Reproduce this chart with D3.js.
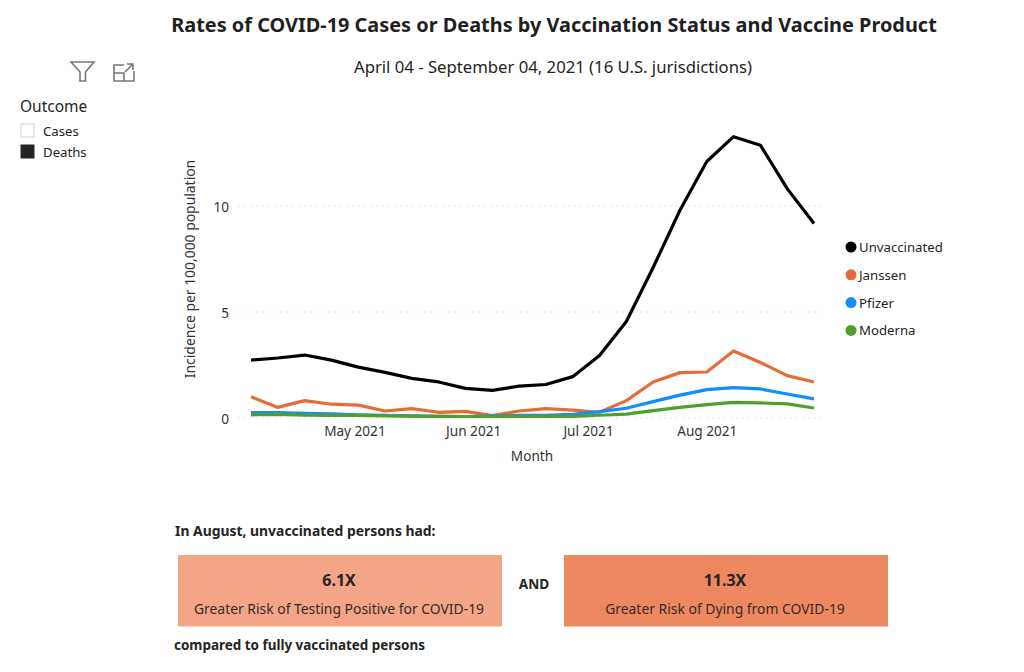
<!DOCTYPE html>
<html>
<head>
<meta charset="utf-8">
<script src="https://cdn.jsdelivr.net/npm/d3@7"></script>
<style>
  html, body { margin: 0; padding: 0; background: #fff; }
  svg { display: block; font-family: "Noto Sans", "Open Sans", sans-serif; }
</style>
</head>
<body>
<div id="chart"></div>
<script>
const weeks = ["2021-04-04","2021-04-11","2021-04-18","2021-04-25","2021-05-02","2021-05-09","2021-05-16","2021-05-23","2021-05-30","2021-06-06","2021-06-13","2021-06-20","2021-06-27","2021-07-04","2021-07-11","2021-07-18","2021-07-25","2021-08-01","2021-08-08","2021-08-15","2021-08-22","2021-08-29"];
const unvaccinated = [2.73,2.83,2.97,2.73,2.4,2.15,1.87,1.7,1.4,1.3,1.5,1.58,1.95,2.95,4.55,7.1,9.8,12.1,13.27,12.87,10.82,9.17];
const janssen = [1.0,0.5,0.82,0.65,0.61,0.33,0.44,0.27,0.31,0.11,0.33,0.44,0.37,0.27,0.82,1.7,2.14,2.17,3.16,2.62,2.0,1.7];
const pfizer = [0.25,0.26,0.22,0.2,0.15,0.12,0.1,0.08,0.07,0.1,0.12,0.12,0.17,0.3,0.46,0.77,1.08,1.34,1.43,1.37,1.13,0.9];
const moderna = [0.15,0.17,0.14,0.12,0.12,0.1,0.09,0.08,0.07,0.07,0.08,0.08,0.08,0.13,0.18,0.35,0.5,0.63,0.74,0.71,0.67,0.47];
const seriesNames = ["Unvaccinated","Janssen","Pfizer","Moderna"];
const seriesColors = ["#000000","#E66C37","#118DFF","#4F9F2B"];
const monthTicks = ["2021-05-01","2021-06-01","2021-07-01","2021-08-01"];
const yTicks = [0,5,10];
const outcomes = ["Cases","Deaths"];

const fontFamily = '"Noto Sans", "Open Sans", sans-serif';
const parseDay = d3.timeParse("%Y-%m-%d");
const dates = weeks.map(parseDay);
const allSeries = [unvaccinated, janssen, pfizer, moderna];

const svg = d3.select("#chart").append("svg")
  .attr("width", 1024)
  .attr("height", 672);

const x = d3.scaleTime()
  .domain([dates[0], dates[dates.length - 1]])
  .range([251, 814]);
const y = d3.scaleLinear()
  .domain([0, 10])
  .range([418, 206]);

// titles
svg.append("text")
  .attr("x", 554).attr("y", 32)
  .attr("text-anchor", "middle")
  .attr("font-size", 19.9).attr("font-weight", 700).attr("fill", "#1f1f1f")
  .text("Rates of COVID-19 Cases or Deaths by Vaccination Status and Vaccine Product");
svg.append("text")
  .attr("x", 553).attr("y", 73)
  .attr("text-anchor", "middle")
  .attr("font-size", 16.7).attr("fill", "#252423")
  .text("April 04 - September 04, 2021 (16 U.S. jurisdictions)");

// filter and expand icons
const icons = svg.append("g")
  .attr("fill", "none").attr("stroke", "#777").attr("stroke-width", 1.6);
icons.append("path").attr("d", "M71 62H94L85.5 72V81H80V72Z");
icons.append("path").attr("d", "M124 65H114V81H134V71M114 73H124V81M125 72L133 64M127 64H133V70");

// outcome slicer
svg.append("text")
  .attr("x", 20).attr("y", 112)
  .attr("font-size", 15.5).attr("fill", "#252423")
  .text("Outcome");
const slicer = svg.append("g").selectAll("g")
  .data(outcomes)
  .enter()
  .append("g")
  .attr("transform", (d, i) => "translate(21," + (124 + i * 21) + ")");
slicer.append("rect")
  .attr("x", 0).attr("y", 0)
  .attr("width", 13).attr("height", 13)
  .attr("fill", (d) => (d == "Deaths" ? "#252423" : "#fff"))
  .attr("stroke", (d) => (d == "Deaths" ? "#252423" : "#d4d4d4"));
slicer.append("text")
  .attr("x", 22).attr("y", 12)
  .attr("font-size", 13.2).attr("fill", "#252423")
  .text((d) => d);

// grid
svg.append("g")
  .selectAll("line")
  .data(yTicks)
  .enter()
  .append("line")
  .attr("x1", 238).attr("x2", 824)
  .attr("y1", (d) => y(d)).attr("y2", (d) => y(d))
  .attr("stroke", "#dcdcdc")
  .attr("stroke-dasharray", "1.5 4.5");

// axes
const xAxis = svg.append("g")
  .attr("transform", "translate(0,418)")
  .call(d3.axisBottom(x)
    .tickValues(monthTicks.map(parseDay))
    .tickFormat(d3.timeFormat("%b %Y"))
    .tickSize(0).tickPadding(8));
xAxis.select(".domain").remove();
xAxis.selectAll("text")
  .style("font-family", fontFamily).style("font-size", "13.6px").style("fill", "#333");

const yAxis = svg.append("g")
  .attr("transform", "translate(231,1)")
  .call(d3.axisLeft(y).tickValues(yTicks).tickSize(0).tickPadding(2));
yAxis.select(".domain").remove();
yAxis.selectAll("text")
  .style("font-family", fontFamily).style("font-size", "13.6px").style("fill", "#333");

svg.append("text")
  .attr("x", 532).attr("y", 461)
  .attr("text-anchor", "middle")
  .attr("font-size", 13.6).attr("fill", "#333")
  .text("Month");
svg.append("text")
  .attr("transform", "translate(195,269) rotate(-90)")
  .attr("text-anchor", "middle")
  .attr("font-size", 13.9).attr("fill", "#333")
  .text("Incidence per 100,000 population");

// lines, drawn back to front so Moderna sits on top
const line = d3.line()
  .x((d, i) => x(dates[i]))
  .y((d) => y(d));
svg.append("g")
  .selectAll("path")
  .data(allSeries)
  .enter()
  .append("path")
  .attr("d", (d) => line(d))
  .attr("fill", "none")
  .attr("stroke", (d, i) => seriesColors[i])
  .attr("stroke-width", 3.2)
  .attr("stroke-linejoin", "round");

// line legend
const legend = svg.append("g").selectAll("g")
  .data(seriesNames)
  .enter()
  .append("g")
  .attr("transform", (d, i) => "translate(851," + (247 + i * 27.8) + ")");
legend.append("circle")
  .attr("r", 5.5)
  .attr("fill", (d, i) => seriesColors[i]);
legend.append("text")
  .attr("x", 8).attr("y", 5)
  .attr("font-size", 13.2).attr("fill", "#252423")
  .text((d) => d);

// risk cards
svg.append("text")
  .attr("x", 175).attr("y", 536)
  .attr("font-size", 13.9).attr("font-weight", 700).attr("fill", "#252423")
  .text("In August, unvaccinated persons had:");
svg.append("text")
  .attr("x", 174).attr("y", 650)
  .attr("font-size", 13.45).attr("font-weight", 700).attr("fill", "#252423")
  .text("compared to fully vaccinated persons");
svg.append("text")
  .attr("x", 534).attr("y", 589)
  .attr("text-anchor", "middle")
  .attr("font-size", 13.6).attr("font-weight", 700).attr("fill", "#252423")
  .text("AND");

const cardValues = ["6.1X","11.3X"];
const cardLabels = ["Greater Risk of Testing Positive for COVID-19","Greater Risk of Dying from COVID-19"];
const cardColors = ["#F4A587","#EE8860"];
const cardX = [178, 564];
const cardW = [324, 324];
const cards = svg.append("g").selectAll("g")
  .data(cardValues)
  .enter()
  .append("g")
  .attr("transform", (d, i) => "translate(" + cardX[i] + ",555)");
cards.append("rect")
  .attr("width", (d, i) => cardW[i]).attr("height", 71.5)
  .attr("fill", (d, i) => cardColors[i]);
cards.append("text")
  .attr("x", (d, i) => cardW[i] / 2 - 1).attr("y", 31)
  .attr("text-anchor", "middle")
  .attr("font-size", 16).attr("font-weight", 700).attr("fill", "#252423")
  .text((d) => d);
cards.append("text")
  .attr("x", (d, i) => cardW[i] / 2 - 1).attr("y", 59)
  .attr("text-anchor", "middle")
  .attr("font-size", 13.9).attr("fill", "#3a2a24")
  .text((d, i) => cardLabels[i]);
</script>
</body>
</html>
